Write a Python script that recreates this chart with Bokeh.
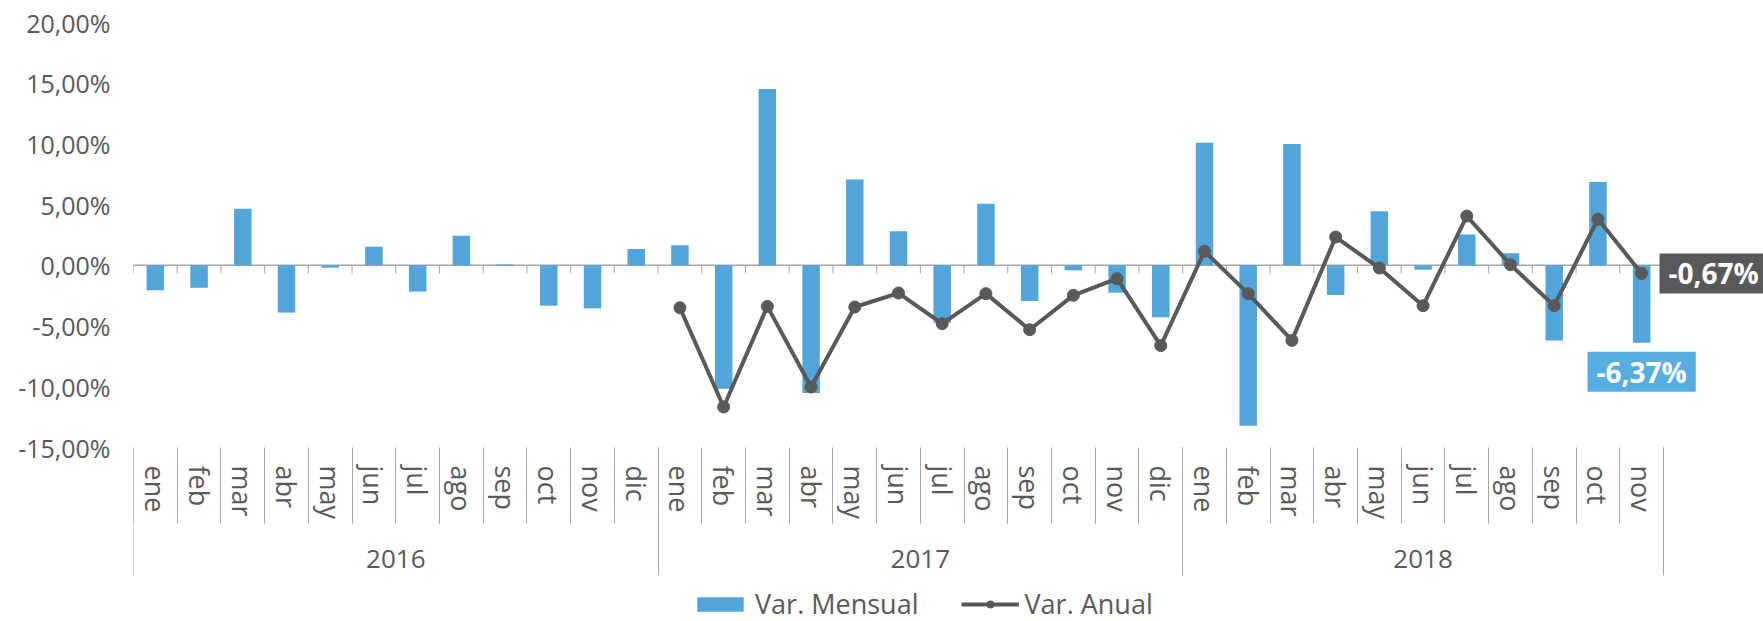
import math
from bokeh.plotting import figure
from bokeh.models import (Range1d, LinearAxis, FixedTicker, Label, Span,
                          Legend, LegendItem)
from bokeh.embed import file_html
from bokeh.resources import INLINE

# ---------------- data ----------------
years = ["2016", "2017", "2018"]
months_per_year = [12, 12, 11]
month_names = ["ene", "feb", "mar", "abr", "may", "jun",
               "jul", "ago", "sep", "oct", "nov", "dic"]
month_labels = month_names + month_names + month_names[:11]

var_mensual = [
    -2.06, -1.84, 4.66, -3.89, -0.19, 1.54, -2.16, 2.44, 0.08, -3.32, -3.54, 1.34,
    1.65, -10.16, 14.52, -10.51, 7.08, 2.80, -4.72, 5.08, -2.94, -0.41, -2.25, -4.28,
    10.10, -13.20, 9.99, -2.44, 4.45, -0.36, 2.55, 0.99, -6.18, 6.86, -6.37,
]
nan = float("nan")
var_anual = [nan] * 12 + [
    -3.49, -11.66, -3.38, -10.02, -3.43, -2.28, -4.80, -2.33, -5.30, -2.47, -1.10, -6.61,
    1.16, -2.33, -6.18, 2.33, -0.22, -3.32, 4.06, 0.05, -3.32, 3.81, -0.67,
]

y_ticks = [-15, -10, -5, 0, 5, 10, 15, 20]
y_tick_labels = ["-15,00%", "-10,00%", "-5,00%", "0,00%",
                 "5,00%", "10,00%", "15,00%", "20,00%"]

# ---------------- layout / styles ----------------
W, H = 1763, 621
LEFT, TOP = 133, 22
PLOT_W, PLOT_H = 1530, 425          # pixel extent of the value / category area
BLUE = "#52a5da"
BLUE_LABEL = "#55ade2"
DARK = "#595959"
TEXT = "#595959"
TICK = "#a6a6a6"
FONT = "Open Sans"

n = len(month_labels)
centers = [i + 0.5 for i in range(n)]
bounds = list(range(n + 1))
year_bounds = [0]
for m in months_per_year:
    year_bounds.append(year_bounds[-1] + m)
year_centers = [(a + b) / 2 for a, b in zip(year_bounds[:-1], year_bounds[1:])]

y_top = y_ticks[-1]
y_span = y_ticks[-1] - y_ticks[0]
px_per_unit = PLOT_H / y_span
y_start = y_top - (H - TOP) / px_per_unit
x_end = n * (W - LEFT) / PLOT_W

p = figure(width=W, height=H,
           x_range=Range1d(0, x_end), y_range=Range1d(y_start, y_top),
           x_axis_type=None, y_axis_type=None,
           toolbar_location=None, output_backend="svg",
           min_border=0,
           min_border_left=LEFT, min_border_right=0,
           min_border_top=TOP, min_border_bottom=0)
p.outline_line_color = None
p.background_fill_color = "white"
p.border_fill_color = "white"

# y axis
yaxis = LinearAxis(ticker=FixedTicker(ticks=y_ticks),
                   major_label_overrides={t: l for t, l in zip(y_ticks, y_tick_labels)})
yaxis.axis_line_color = None
yaxis.major_tick_line_color = None
yaxis.minor_tick_line_color = None
yaxis.major_label_standoff = 17
yaxis.major_label_text_font = FONT
yaxis.major_label_text_font_size = "25px"
yaxis.major_label_text_color = TEXT
p.add_layout(yaxis, "left")

# zero line with small ticks at category boundaries
p.add_layout(Span(location=0, dimension="width", line_color=TICK, line_width=1.5,
                  level="underlay"))
p.segment(x0=bounds, y0=[0] * len(bounds), x1=bounds,
          y1=[-8 / px_per_unit] * len(bounds), line_color=TICK, line_width=1)

# month axis (labels at centres, separators at boundaries), at the bottom of the value range
maxis = LinearAxis(fixed_location=y_ticks[0],
                   ticker=FixedTicker(ticks=centers, minor_ticks=bounds),
                   major_label_overrides={c: l for c, l in zip(centers, month_labels)})
maxis.axis_line_color = None
maxis.major_tick_out = 0
maxis.major_tick_in = 0
maxis.major_tick_line_color = None
maxis.minor_tick_out = 76
maxis.minor_tick_in = 0
maxis.minor_tick_line_color = TICK
maxis.minor_tick_line_width = 1
maxis.major_label_orientation = "vertical"
maxis.major_label_standoff = -58
maxis.major_label_text_font = FONT
maxis.major_label_text_font_size = "27px"
maxis.major_label_text_color = TEXT
p.add_layout(maxis, "below")

# year axis
yraxis = LinearAxis(fixed_location=y_ticks[0],
                    ticker=FixedTicker(ticks=year_centers, minor_ticks=year_bounds),
                    major_label_overrides={c: l for c, l in zip(year_centers, years)})
yraxis.axis_line_color = None
yraxis.major_tick_out = 0
yraxis.major_tick_in = 0
yraxis.major_tick_line_color = None
yraxis.minor_tick_out = 128
yraxis.minor_tick_in = 0
yraxis.minor_tick_line_color = TICK
yraxis.minor_tick_line_width = 1
yraxis.major_label_standoff = -26
yraxis.major_label_text_font = FONT
yraxis.major_label_text_font_size = "26px"
yraxis.major_label_text_color = TEXT
p.add_layout(yraxis, "below")

bars = p.vbar(x=centers, top=var_mensual, bottom=0, width=0.4,
              fill_color=BLUE, line_color=None)
line = p.line(x=centers, y=var_anual, line_color=DARK, line_width=4)
dots = p.scatter(x=centers, y=var_anual, size=12, fill_color=DARK, line_color=DARK)

def fmt(v):
    return f"{v:.2f}".replace(".", ",") + "%"

pad = dict(left=9, right=9, top=1, bottom=1)
lab_a = Label(x=centers[-1], y=var_anual[-1], x_offset=72, y_offset=0,
              text=fmt(var_anual[-1]), text_align="center", text_baseline="middle",
              text_font=FONT, text_font_style="bold", text_font_size="28px",
              text_color="white", background_fill_color=DARK, padding=pad)
lab_m = Label(x=centers[-1], y=var_mensual[-1], x_offset=0, y_offset=-29,
              text=fmt(var_mensual[-1]), text_align="center", text_baseline="middle",
              text_font=FONT, text_font_style="bold", text_font_size="28px",
              text_color="white", background_fill_color=BLUE_LABEL, padding=pad)
p.add_layout(lab_a)
p.add_layout(lab_m)

legend = Legend(items=[LegendItem(label="Var. Mensual", renderers=[bars]),
                       LegendItem(label="Var. Anual", renderers=[line, dots])],
                orientation="horizontal", location=(558, -1))
legend.border_line_color = None
legend.background_fill_alpha = 0
legend.padding = 0
legend.margin = 0
legend.spacing = 42
legend.label_standoff = 6
legend.glyph_width = 58
legend.glyph_height = 18
legend.label_text_font = FONT
legend.label_text_font_size = "27px"
legend.label_text_color = TEXT
p.add_layout(legend)

open("out.html", "w").write(file_html(p, INLINE))
